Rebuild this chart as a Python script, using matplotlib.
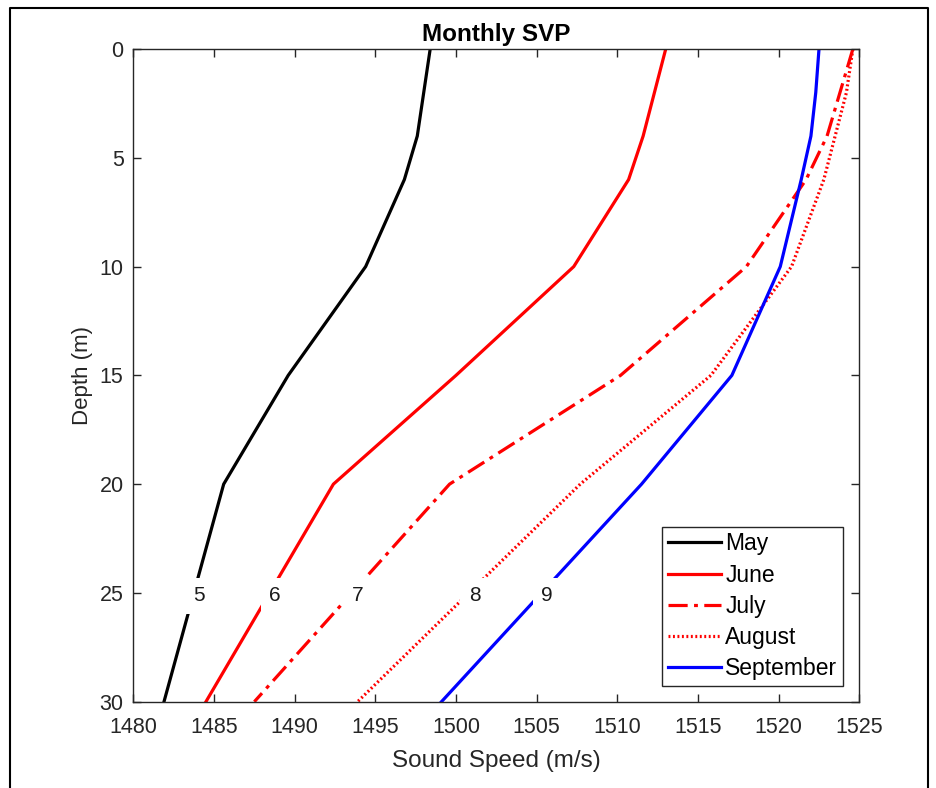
import matplotlib.pyplot as plt
import numpy as np
from matplotlib.lines import Line2D

plt.rcParams["font.family"] = ["Liberation Sans", "DejaVu Sans"]

# depth levels (m) and sound speed per month (m/s)
depth = [0, 2, 4, 6, 10, 15, 20, 30]
may = [1498.4, 1498.0, 1497.6, 1496.8, 1494.4, 1489.6, 1485.6, 1481.9]
june = [1513.0, 1512.3, 1511.6, 1510.7, 1507.3, 1500.0, 1492.4, 1484.5]
july = [1524.6, 1523.8, 1523.0, 1521.7, 1518.0, 1510.2, 1499.6, 1487.5]
august = [1524.6, 1524.2, 1523.5, 1522.8, 1520.8, 1515.8, 1507.7, 1493.9]
september = [1522.5, 1522.3, 1522.0, 1521.4, 1520.1, 1517.1, 1511.5, 1499.1]

month_names = ["May", "June", "July", "August", "September"]
month_numbers = ["5", "6", "7", "8", "9"]
label_depth = 25

x_ticks = list(range(1480, 1526, 5))
y_ticks = list(range(0, 31, 5))

series = [may, june, july, august, september]
styles = [
    {"color": "black", "linestyle": "-"},
    {"color": "red", "linestyle": "-"},
    {"color": "red", "linestyle": (0, (6, 2, 1.2, 2))},
    {"color": "red", "linestyle": (0, (0.6, 0.8))},
    {"color": "blue", "linestyle": "-"},
]

axis_color = (0.15, 0.15, 0.15)

fig = plt.figure(figsize=(9.37, 7.88), dpi=100)
ax = fig.add_axes([0.1423, 0.1095, 0.7748, 0.8283])

for values, name, number, style in zip(series, month_names, month_numbers, styles):
    ax.plot(values, depth, linewidth=2.3, label=name, zorder=2, **style)
    x_at_label = np.interp(label_depth, depth, values)
    ax.annotate(
        number,
        xy=(x_at_label, label_depth),
        xytext=(4, -2),
        textcoords="offset points",
        ha="center",
        va="center",
        fontsize=15,
        color=(0.1, 0.1, 0.1),
        zorder=3,
        bbox=dict(boxstyle="square,pad=0.4", facecolor="white", edgecolor="none"),
    )

ax.set_xlim(1480, 1525)
ax.set_ylim(30, 0)
ax.set_xticks(x_ticks)
ax.set_yticks(y_ticks)
ax.tick_params(
    direction="in", top=True, right=True, length=6, width=1,
    labelsize=15.5, colors=axis_color,
)
ax.tick_params(axis="x", pad=11)
ax.tick_params(axis="y", pad=7)
for spine in ax.spines.values():
    spine.set_color(axis_color)
    spine.set_linewidth(1)

ax.set_xlabel("Sound Speed (m/s)", fontsize=17.5, color=axis_color, labelpad=9)
ax.set_ylabel("Depth (m)", fontsize=16, color=axis_color, labelpad=5)
ax.set_title("Monthly SVP", fontsize=17.5, fontweight="bold", pad=6)

legend = ax.legend(
    loc="lower right",
    bbox_to_anchor=(0.9776, 0.024),
    borderaxespad=0,
    fontsize=16.5,
    handlelength=2.3,
    handletextpad=0.2,
    labelspacing=0.36,
    borderpad=0.25,
    fancybox=False,
    framealpha=1,
)
legend.get_frame().set_edgecolor(axis_color)
legend.get_frame().set_linewidth(1)

# outer figure border
border_x = [0.0107, 0.0107, 0.9904, 0.9904]
border_y = [0.0, 0.9898, 0.9898, 0.0]
fig.add_artist(Line2D(border_x, border_y, transform=fig.transFigure, color="black", linewidth=1.5))

fig.savefig("out.png", dpi=100)
